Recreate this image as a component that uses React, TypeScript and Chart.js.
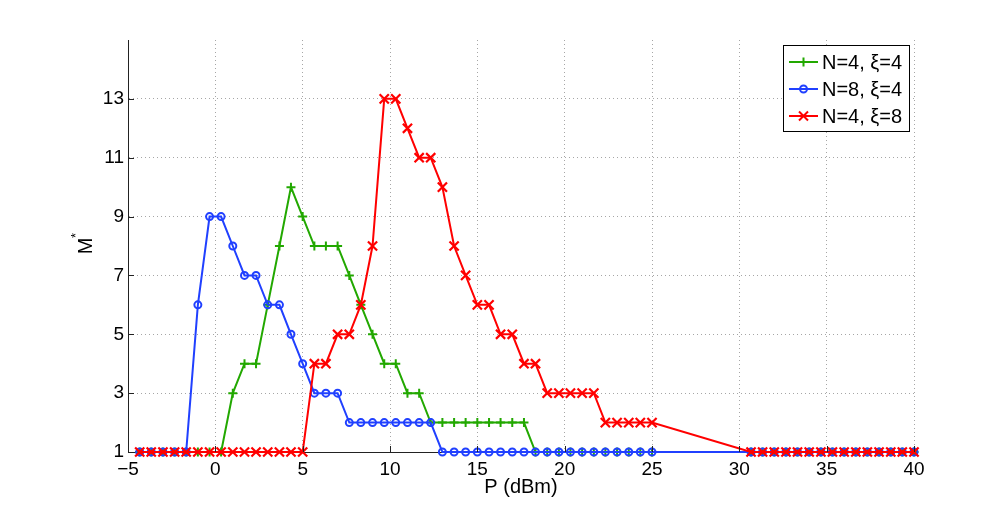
import React, { useEffect, useRef } from "react";
import { Chart, registerables } from "chart.js";

Chart.register(...registerables);

// P (dBm) sample positions
const pValues = [
  -4.33, -3.67, -3, -2.33, -1.67, -1, -0.33, 0.33, 1, 1.67, 2.33, 3, 3.67, 4.33, 5,
  5.67, 6.33, 7, 7.67, 8.33, 9, 9.67, 10.33, 11, 11.67, 12.33, 13, 13.67, 14.33, 15,
  15.67, 16.33, 17, 17.67, 18.33, 19, 19.67, 20.33, 21, 21.67, 22.33, 23, 23.67, 24.33, 25,
  30.67, 31.33, 32, 32.67, 33.33, 34, 34.67, 35.33, 36, 36.67, 37.33, 38, 38.67, 39.33, 40,
];

// M* for N=4, xi=4
const seriesN4Xi4 = [
  1, 1, 1, 1, 1, 1, 1, 1, 3, 4, 4, 6, 8, 10, 9,
  8, 8, 8, 7, 6, 5, 4, 4, 3, 3, 2, 2, 2, 2, 2,
  2, 2, 2, 2, 1, 1, 1, 1, 1, 1, 1, 1, 1, 1, 1,
  1, 1, 1, 1, 1, 1, 1, 1, 1, 1, 1, 1, 1, 1, 1,
];

// M* for N=8, xi=4
const seriesN8Xi4 = [
  1, 1, 1, 1, 1, 6, 9, 9, 8, 7, 7, 6, 6, 5, 4,
  3, 3, 3, 2, 2, 2, 2, 2, 2, 2, 2, 1, 1, 1, 1,
  1, 1, 1, 1, 1, 1, 1, 1, 1, 1, 1, 1, 1, 1, 1,
  1, 1, 1, 1, 1, 1, 1, 1, 1, 1, 1, 1, 1, 1, 1,
];

// M* for N=4, xi=8
const seriesN4Xi8 = [
  1, 1, 1, 1, 1, 1, 1, 1, 1, 1, 1, 1, 1, 1, 1,
  4, 4, 5, 5, 6, 8, 13, 13, 12, 11, 11, 10, 8, 7, 6,
  6, 5, 5, 4, 4, 3, 3, 3, 3, 3, 2, 2, 2, 2, 2,
  1, 1, 1, 1, 1, 1, 1, 1, 1, 1, 1, 1, 1, 1, 1,
];

const xTickValues = [-5, 0, 5, 10, 15, 20, 25, 30, 35, 40];
const yTickValues = [1, 3, 5, 7, 9, 11, 13];
const seriesLabels = ["N=4, \u03BE=4", "N=8, \u03BE=4", "N=4, \u03BE=8"];
const seriesColors = ["#22a800", "#2040ff", "#ff0000"];
const seriesMarkers = ["cross", "circle", "crossRot"];

const FONT = "'Liberation Sans', Arial, Helvetica, sans-serif";

function toPoints(ys: number[]) {
  return pValues.map((x, i) => ({ x, y: ys[i] }));
}

function drawMarker(ctx: CanvasRenderingContext2D, kind: string, x: number, y: number, color: string) {
  ctx.save();
  ctx.strokeStyle = color;
  ctx.lineWidth = 2;
  ctx.beginPath();
  if (kind === "cross") {
    ctx.moveTo(x - 4.5, y);
    ctx.lineTo(x + 4.5, y);
    ctx.moveTo(x, y - 4.5);
    ctx.lineTo(x, y + 4.5);
  } else if (kind === "circle") {
    ctx.arc(x, y, 3.5, 0, Math.PI * 2);
  } else {
    ctx.moveTo(x - 4.5, y - 4.5);
    ctx.lineTo(x + 4.5, y + 4.5);
    ctx.moveTo(x - 4.5, y + 4.5);
    ctx.lineTo(x + 4.5, y - 4.5);
  }
  ctx.stroke();
  ctx.restore();
}

const decorPlugin = {
  id: "decor",
  afterDraw(chart: any) {
    const ctx: CanvasRenderingContext2D = chart.ctx;
    const { left, right, top, bottom } = chart.chartArea;
    const xs = chart.scales.x;
    const ys = chart.scales.y;
    ctx.save();
    // inner tick marks
    ctx.strokeStyle = "#222";
    ctx.lineWidth = 1;
    ctx.beginPath();
    xTickValues.forEach((v) => {
      const px = Math.round(xs.getPixelForValue(v)) + 0.5;
      ctx.moveTo(px, bottom);
      ctx.lineTo(px, bottom - 6);
    });
    yTickValues.forEach((v) => {
      const py = Math.round(ys.getPixelForValue(v)) + 0.5;
      ctx.moveTo(left, py);
      ctx.lineTo(left + 6, py);
    });
    ctx.stroke();

    // axis titles
    ctx.fillStyle = "#000";
    ctx.font = `20px ${FONT}`;
    ctx.textAlign = "center";
    ctx.textBaseline = "middle";
    ctx.fillText("P (dBm)", (left + right) / 2, 487);

    ctx.save();
    ctx.translate(86, (top + bottom) / 2);
    ctx.rotate(-Math.PI / 2);
    ctx.font = `20px ${FONT}`;
    ctx.textAlign = "center";
    ctx.fillText("M", 0, 0);
    ctx.font = `13px ${FONT}`;
    ctx.textAlign = "left";
    ctx.fillText("*", 8, -10);
    ctx.restore();

    // legend
    const bx = 783.5, by = 45.5, bw = 126, bh = 86;
    ctx.fillStyle = "#fff";
    ctx.fillRect(bx, by, bw, bh);
    ctx.strokeStyle = "#000";
    ctx.lineWidth = 1;
    ctx.strokeRect(bx, by, bw, bh);
    const rows = [62, 89, 116];
    seriesLabels.forEach((lab, i) => {
      const y = rows[i];
      ctx.strokeStyle = seriesColors[i];
      ctx.lineWidth = 2;
      ctx.beginPath();
      ctx.moveTo(789, y);
      ctx.lineTo(818, y);
      ctx.stroke();
      drawMarker(ctx, seriesMarkers[i], 803.5, y, seriesColors[i]);
      ctx.fillStyle = "#000";
      ctx.font = `20px ${FONT}`;
      ctx.textAlign = "left";
      ctx.textBaseline = "middle";
      ctx.fillText(lab, 822, y + 1);
    });
    ctx.restore();
  },
};

export default function App() {
  const ref = useRef<HTMLCanvasElement | null>(null);

  useEffect(() => {
    if (!ref.current) return;
    const mk = (i: number, ys: number[], order: number, radius: number, bw: number) => ({
      label: seriesLabels[i],
      data: toPoints(ys),
      borderColor: seriesColors[i],
      backgroundColor: "transparent",
      pointBorderColor: seriesColors[i],
      pointBackgroundColor: "transparent",
      pointStyle: seriesMarkers[i],
      pointRadius: radius,
      pointHoverRadius: radius,
      pointBorderWidth: bw,
      borderWidth: 2,
      showLine: true,
      tension: 0,
      clip: false,
      order,
    });
    const chart = new Chart(ref.current, {
      type: "scatter",
      data: {
        datasets: [
          mk(0, seriesN4Xi4, 2, 4.5, 2),
          mk(1, seriesN8Xi4, 1, 3.5, 2),
          mk(2, seriesN4Xi8, 0, 6.5, 2.2),
        ] as any,
      },
      options: {
        animation: false,
        responsive: false,
        events: [],
        layout: { padding: { top: 40, right: 67, left: 0, bottom: 0 } },
        plugins: { legend: { display: false }, tooltip: { enabled: false } },
        scales: {
          x: {
            type: "linear",
            min: -5,
            max: 40,
            afterBuildTicks: (s: any) => {
              s.ticks = xTickValues.map((v) => ({ value: v }));
            },
            afterFit: (s: any) => {
              s.height = 60;
            },
            ticks: {
              color: "#000",
              font: { family: FONT, size: 19 },
              padding: 6,
              maxRotation: 0,
              autoSkip: false,
              callback: (v: any) => String(v).replace("-", "\u2212"),
            },
            grid: { color: "rgba(0,0,0,0.35)", drawTicks: false, lineWidth: 1 },
            border: { display: true, color: "#222", width: 1, dash: [1, 3] },
          },
          y: {
            type: "linear",
            min: 1,
            max: 15,
            afterBuildTicks: (s: any) => {
              s.ticks = yTickValues.map((v) => ({ value: v }));
            },
            afterFit: (s: any) => {
              s.width = 128;
            },
            ticks: {
              color: "#000",
              font: { family: FONT, size: 19 },
              padding: 4,
              autoSkip: false,
            },
            grid: { color: "rgba(0,0,0,0.35)", drawTicks: false, lineWidth: 1 },
            border: { display: true, color: "#222", width: 1, dash: [1, 3] },
          },
        },
      },
      plugins: [decorPlugin],
    });
    return () => chart.destroy();
  }, []);

  return (
    <div style={{ position: "fixed", left: 0, top: 0, width: 981, height: 512, background: "#fff" }}>
      <canvas ref={ref} width={981} height={512} style={{ width: 981, height: 512 }} />
    </div>
  );
}
